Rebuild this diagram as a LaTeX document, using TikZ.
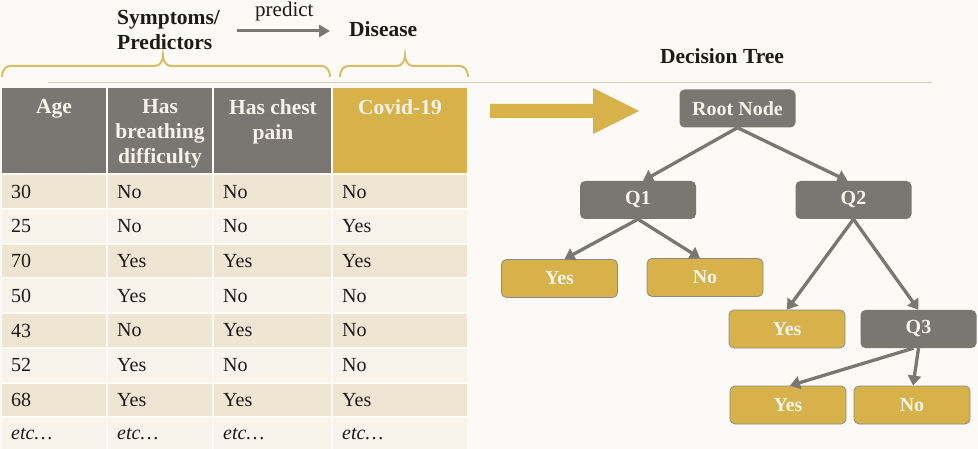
\documentclass[tikz,border=0pt]{standalone}
\usepackage{fontspec}
\setmainfont{Liberation Serif}
\usetikzlibrary{arrows.meta}
\definecolor{bg}{HTML}{FBFAF7}
\definecolor{hgray}{HTML}{7A7773}
\definecolor{gold}{HTML}{D7B24A}
\definecolor{rowa}{HTML}{EFE5D3}
\definecolor{rowb}{HTML}{F8F4EC}
\definecolor{bracec}{HTML}{D9BC66}
\definecolor{rulec}{HTML}{D8CDB8}
\definecolor{txtw}{HTML}{F7F3EA}
\definecolor{ink}{HTML}{1E1A16}
\begin{document}
\begin{tikzpicture}[x=1pt,y=-1pt,
  tbox/.style={rounded corners=5pt, minimum width=116pt, minimum height=38pt, inner sep=0pt,
    font=\fontsize{20}{23}\selectfont\bfseries, text=txtw},
  qbox/.style={tbox, fill=hgray},
  ybox/.style={tbox, fill=gold, draw=hgray!85, line width=0.8pt},
  conn/.style={draw=hgray, line width=3.3pt, -{Triangle[length=10pt,width=13pt]}},
  lbl/.style={font=\fontsize{21.5}{25}\selectfont\bfseries, text=ink, inner sep=0pt},
  hcell/.style={inner sep=0pt, minimum height=85pt, anchor=north west},
  htext/.style={font=\fontsize{21.5}{25}\selectfont\bfseries, text=txtw, align=center, anchor=north, inner sep=0pt},
  bcell/.style={inner xsep=9pt, inner ysep=0pt, minimum height=32.8pt, align=left, anchor=north west,
    font=\fontsize{20}{23}\selectfont, text=ink},
  bracestyle/.style={draw=bracec, line width=2pt},
  bigarrow/.style={fill=gold}
]
\useasboundingbox[fill=bg] (0,0) rectangle (978,449);

% top labels
\node[lbl, anchor=base west] (symp) at (117,25) {Symptoms/};
\node[lbl, anchor=base west] (pred) at (117,50) {Predictors};
\node[font=\fontsize{21}{24}\selectfont, text=ink, inner sep=0pt, anchor=base west] (predict) at (255,17) {predict};
\coordinate (pa) at (237,31);
\coordinate (pb) at (330,31);
\draw[conn, line width=3pt, -{Triangle[length=11pt,width=12pt]}] (pa) -- (pb);
\node[lbl, anchor=base west] (disease) at (349,37) {Disease};
\node[lbl, anchor=base] (dtree) at (722,64) {Decision Tree};

% braces
\draw[bracestyle] (2,77) to[out=90,in=180] (10,66) -- (155,66)
  to[out=0,in=-90] (163,55) to[out=-90,in=180] (171,66) -- (322,66) to[out=0,in=90] (330,77);
\draw[bracestyle] (340,77) to[out=90,in=180] (348,66) -- (397,66)
  to[out=0,in=-90] (405,55) to[out=-90,in=180] (413,66) -- (460,66) to[out=0,in=90] (468,77);

% rule
\draw[rulec, line width=1pt] (48,83) -- (932,83);

% table header
\node[hcell, fill=hgray, minimum width=104pt] (h1) at (2,88) {};
\node[hcell, fill=hgray, minimum width=104pt] (h2) at (108,88) {};
\node[hcell, fill=hgray, minimum width=117pt] (h3) at (214,88) {};
\node[hcell, fill=gold, minimum width=134pt] (h4) at (333,88) {};
\node[htext] (t1) at (54,99) {Age};
\node[htext] (t2) at (160,99) {Has\\breathing\\difficulty};
\node[htext] (t3) at (273,99) {Has chest\\pain};
\node[htext] (t4) at (400,99) {Covid-19};

% table body
\foreach \r/\col/\a/\b/\c/\d in {1/rowa/30/No/No/No, 2/rowb/25/No/No/Yes, 3/rowa/70/Yes/Yes/Yes,
  4/rowb/50/Yes/No/No, 5/rowa/43/No/Yes/No, 6/rowb/52/Yes/No/No, 7/rowa/68/Yes/Yes/Yes}{
  \pgfmathsetmacro{\yy}{175+(\r-1)*34.72}
  \node[bcell, fill=\col, text width=86pt] (c\r a) at (2,\yy) {\a};
  \node[bcell, fill=\col, text width=86pt] (c\r b) at (108,\yy) {\b};
  \node[bcell, fill=\col, text width=99pt] (c\r c) at (214,\yy) {\c};
  \node[bcell, fill=\col, text width=116pt] (c\r d) at (333,\yy) {\d};
}
\node[bcell, fill=rowb, text width=86pt, minimum height=31pt] (c8a) at (2,418) {\textit{etc\dots}};
\node[bcell, fill=rowb, text width=86pt, minimum height=31pt] (c8b) at (108,418) {\textit{etc\dots}};
\node[bcell, fill=rowb, text width=99pt, minimum height=31pt] (c8c) at (214,418) {\textit{etc\dots}};
\node[bcell, fill=rowb, text width=116pt, minimum height=31pt] (c8d) at (333,418) {\textit{etc\dots}};

% big arrow
\fill[bigarrow] (490,104) -- (593,104) -- (593,88) -- (639,111) -- (593,134) -- (593,118) -- (490,118) -- cycle;

% tree
\node[qbox] (root) at (737.5,108.5) {Root Node};
\node[qbox] (q1) at (638,200) {Q1};
\node[qbox] (q2) at (853.5,200) {Q2};
\node[ybox] (y1) at (559.5,278.5) {Yes};
\node[ybox] (n1) at (705,277.5) {No};
\node[ybox] (y2) at (787,329) {Yes};
\node[qbox] (q3) at (918.5,329) {Q3};
\node[ybox] (y3) at (788,405) {Yes};
\node[ybox] (n3) at (912,405) {No};

\draw[conn] (root.south) -- ([xshift=5pt]q1.north);
\draw[conn] (root.south) -- ([xshift=-6pt]q2.north);
\draw[conn] (q1.south) -- ([xshift=5pt]y1.north);
\draw[conn] (q1.south) -- ([xshift=-5pt]n1.north);
\draw[conn] (q2.south) -- (y2.north);
\draw[conn] (q2.south) -- (q3.north);
\draw[conn] ([xshift=-5pt]q3.south) -- ([xshift=2pt]y3.north);
\draw[conn] (q3.south) -- ([xshift=1pt]n3.north);
\end{tikzpicture}
\end{document}
